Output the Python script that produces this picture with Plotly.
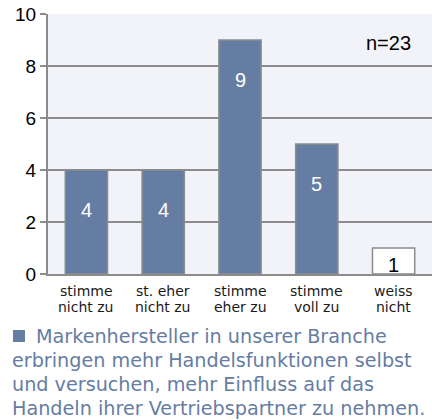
import plotly.graph_objects as go

categories_line1 = ["stimme", "st. eher", "stimme", "stimme", "weiss"]
categories_line2 = ["nicht zu", "nicht zu", "eher zu", "voll zu", "nicht"]
values = [4, 4, 9, 5, 1]
bar_colors = ["#657DA3", "#657DA3", "#657DA3", "#657DA3", "#FFFFFF"]
label_colors = ["white", "white", "white", "white", "black"]
y_ticks = [0, 2, 4, 6, 8, 10]
n_label = "n=23"
legend_lines = ["Markenhersteller in unserer Branche",
                "erbringen mehr Handelsfunktionen selbst",
                "und versuchen, mehr Einfluss auf das",
                "Handeln ihrer Vertriebspartner zu nehmen."]

W, H = 432, 420
L, R, T, B = 48, 0, 14, 146
PW, PH = W - L - R, H - T - B

def px_x(px):
    return (px - L) / PW

def px_y(py):
    return (H - B - py) / PH

TEXT_FONT = "DejaVu Sans"
ARIAL = "Liberation Sans, Arial"
BLUE = "#657DA3"
GRAY = "#8C8C8C"

fig = go.Figure()
fig.add_trace(go.Bar(
    x=list(range(len(values))), y=values,
    marker=dict(color=bar_colors, line=dict(color=GRAY, width=1.5)),
    width=0.55, hoverinfo="skip",
))

# value labels inside bars
for i, (v, c) in enumerate(zip(values, label_colors)):
    fig.add_annotation(x=i, y=v, xref="x", yref="y", text=str(v), showarrow=False,
                       yanchor="middle", yshift=-min(40, v * 17),
                       font=dict(family=ARIAL, size=20, color=c))

# category labels (two tight lines)
for i, (a, b) in enumerate(zip(categories_line1, categories_line2)):
    fig.add_annotation(x=i, y=px_y(290.7), xref="x", yref="paper", text=a, showarrow=False,
                       xanchor="center", yanchor="middle", borderpad=0,
                       font=dict(family=TEXT_FONT, size=14, color="#1a1a1a"))
    fig.add_annotation(x=i, y=px_y(307.3), xref="x", yref="paper", text=b, showarrow=False,
                       xanchor="center", yanchor="middle", borderpad=0,
                       font=dict(family=TEXT_FONT, size=14, color="#1a1a1a"))

fig.add_annotation(x=px_x(388), y=px_y(43), xref="paper", yref="paper", text=n_label,
                   showarrow=False, xanchor="center", yanchor="middle",
                   font=dict(family=ARIAL, size=20, color="black"))

# legend square + text lines
fig.add_shape(type="rect", xref="paper", yref="paper",
              x0=px_x(13), x1=px_x(25), y0=px_y(342), y1=px_y(330),
              fillcolor=BLUE, line=dict(width=0))
legend_x = [35, 11, 11, 11]
legend_y = [336, 360, 384, 408]
for txt, lx, ly in zip(legend_lines, legend_x, legend_y):
    fig.add_annotation(x=px_x(lx), y=px_y(ly), xref="paper", yref="paper", text=txt,
                       showarrow=False, xanchor="left", yanchor="middle", align="left",
                       borderpad=0,
                       font=dict(family=TEXT_FONT, size=19.2, color=BLUE))

fig.update_layout(
    width=W, height=H,
    margin=dict(l=L, r=R, t=T, b=B, pad=0),
    paper_bgcolor="white", plot_bgcolor="#F2F3F8",
    showlegend=False,
)
fig.update_xaxes(
    tickvals=list(range(len(values))), showticklabels=False,
    range=[-0.5, 4.5], showgrid=False, showline=True, linecolor=GRAY, linewidth=2,
    ticks="", zeroline=False, fixedrange=True,
)
fig.update_yaxes(
    range=[0, 10], tickvals=y_ticks, showgrid=True, gridcolor=GRAY, gridwidth=1.5,
    showline=True, linecolor=GRAY, linewidth=2, ticks="outside", ticklen=6,
    tickcolor=GRAY, tickwidth=1.5, zeroline=False, fixedrange=True,
    tickfont=dict(family=ARIAL, size=19, color="black"),
)

fig.write_html("out.html", config={"displayModeBar": False},
               post_script="document.body.style.margin='0';document.body.style.overflow='hidden';")
